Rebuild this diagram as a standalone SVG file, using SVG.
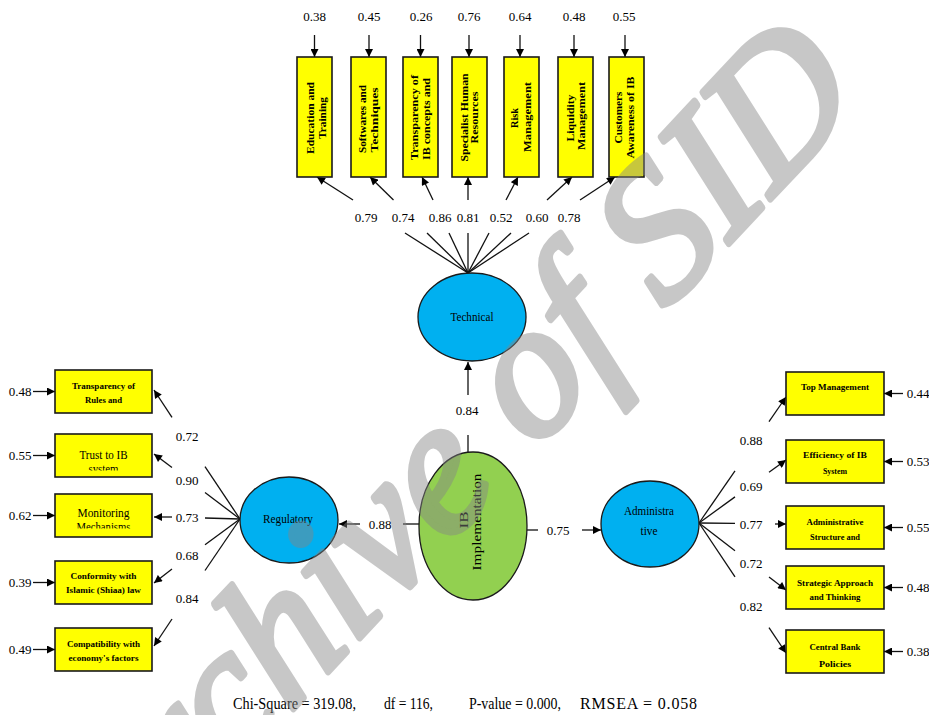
<svg xmlns="http://www.w3.org/2000/svg" width="929" height="715" viewBox="0 0 929 715">
<style>
.box{fill:#ffff00;stroke:#1a1a1a;stroke-width:1.6}
.lat{fill:#00b0f0;stroke:#1a1a1a;stroke-width:1.3}
.ib{fill:#92d050;stroke:#1a1a1a;stroke-width:1.3}
.ln{stroke:#111;stroke-width:1.3;fill:none}
.arr{marker-end:url(#ah)}
.num{font-family:"Liberation Serif","Times New Roman",serif;font-size:13px;text-anchor:middle;fill:#000}
.bt{font-family:"Liberation Serif","Times New Roman",serif;font-size:9px;font-weight:bold;text-anchor:middle;fill:#000}
.tb{font-family:"Liberation Serif","Times New Roman",serif;font-size:10px;font-weight:bold;text-anchor:middle;fill:#000}
.rt{font-family:"Liberation Serif","Times New Roman",serif;font-size:13px;text-anchor:middle;fill:#000}
.nl{font-family:"Liberation Serif","Times New Roman",serif;font-size:13px;text-anchor:middle;fill:#000}
.ft{font-family:"Liberation Serif","Times New Roman",serif;font-size:16px;fill:#000}
.wm{font-family:"Liberation Serif","Times New Roman",serif;font-size:195px;font-style:italic;fill:#858585;stroke:#858585;stroke-width:7;stroke-linejoin:round}
</style>
<defs>
<marker id="ah" viewBox="0 0 10 10" refX="10" refY="5" markerWidth="9" markerHeight="8" markerUnits="userSpaceOnUse" orient="auto">
<path d="M0,0 L10,5 L0,10 z" fill="#000"/>
</marker>
<clipPath id="clipSys"><rect x="55" y="458" width="97" height="12.5"/></clipPath>
<clipPath id="clipMech"><rect x="55" y="518" width="97" height="10.5"/></clipPath>
</defs>

<!-- connectors -->
<g id="connectors">
<!-- top error arrows -->
<line class="ln arr" x1="314.5" y1="35" x2="314.5" y2="57"/>
<line class="ln arr" x1="369" y1="35" x2="369" y2="57"/>
<line class="ln arr" x1="420.5" y1="35" x2="420.5" y2="57"/>
<line class="ln arr" x1="469" y1="35" x2="469" y2="57"/>
<line class="ln arr" x1="520" y1="35" x2="520" y2="57"/>
<line class="ln arr" x1="574" y1="35" x2="574" y2="57"/>
<line class="ln arr" x1="625" y1="35" x2="625" y2="57"/>
<!-- technical loadings -->
<line class="ln" x1="468" y1="273" x2="405" y2="233"/>
<line class="ln" x1="468" y1="273" x2="427" y2="233"/>
<line class="ln" x1="468" y1="273" x2="449" y2="233"/>
<line class="ln" x1="468" y1="273" x2="468" y2="233"/>
<line class="ln" x1="468" y1="273" x2="489" y2="233"/>
<line class="ln" x1="468" y1="273" x2="511" y2="233"/>
<line class="ln" x1="468" y1="273" x2="529" y2="233"/>
<line class="ln arr" x1="353" y1="200" x2="317" y2="177"/>
<line class="ln arr" x1="393.5" y1="200" x2="370" y2="177"/>
<line class="ln arr" x1="433" y1="200" x2="422" y2="177"/>
<line class="ln arr" x1="468" y1="200" x2="468" y2="177"/>
<line class="ln arr" x1="506" y1="200" x2="518" y2="177"/>
<line class="ln arr" x1="547" y1="200" x2="572" y2="177"/>
<line class="ln arr" x1="580" y1="200" x2="615" y2="177"/>
<!-- IB to technical -->
<line class="ln" x1="468" y1="453" x2="468" y2="435"/>
<line class="ln arr" x1="468" y1="395" x2="468" y2="362"/>
<!-- IB to regulatory -->
<line class="ln" x1="420" y1="524" x2="403" y2="524"/>
<line class="ln arr" x1="360" y1="524" x2="339" y2="524"/>
<!-- IB to administrative -->
<line class="ln" x1="527" y1="530" x2="538" y2="530"/>
<line class="ln arr" x1="582" y1="530" x2="601" y2="530"/>
<!-- regulatory loadings -->
<line class="ln" x1="240" y1="519" x2="205" y2="466.7"/>
<line class="ln" x1="240" y1="519" x2="205" y2="492.5"/>
<line class="ln" x1="240" y1="519" x2="205" y2="518"/>
<line class="ln" x1="240" y1="519" x2="205" y2="544.7"/>
<line class="ln" x1="240" y1="519" x2="205" y2="570.5"/>
<line class="ln arr" x1="172" y1="417.4" x2="154" y2="390"/>
<line class="ln arr" x1="172" y1="467.4" x2="154" y2="454"/>
<line class="ln arr" x1="172" y1="517" x2="154" y2="517"/>
<line class="ln arr" x1="172" y1="569" x2="154" y2="583"/>
<line class="ln arr" x1="172" y1="619" x2="154" y2="646"/>
<!-- regulatory error arrows -->
<line class="ln arr" x1="33" y1="391.5" x2="55" y2="391.5"/>
<line class="ln arr" x1="33" y1="455.5" x2="55" y2="455.5"/>
<line class="ln arr" x1="33" y1="515.5" x2="55" y2="515.5"/>
<line class="ln arr" x1="33" y1="582.5" x2="55" y2="582.5"/>
<line class="ln arr" x1="33" y1="649.5" x2="55" y2="649.5"/>
<!-- administrative loadings -->
<line class="ln" x1="699" y1="523" x2="735" y2="470.9"/>
<line class="ln" x1="699" y1="523" x2="735" y2="496.9"/>
<line class="ln" x1="699" y1="523" x2="735" y2="523.4"/>
<line class="ln" x1="699" y1="523" x2="735" y2="550.7"/>
<line class="ln" x1="699" y1="523" x2="735" y2="576.8"/>
<line class="ln arr" x1="769" y1="421.6" x2="786" y2="397"/>
<line class="ln arr" x1="769" y1="472.3" x2="786" y2="460"/>
<line class="ln arr" x1="775" y1="524" x2="786" y2="524"/>
<line class="ln arr" x1="769" y1="576.9" x2="786" y2="590"/>
<line class="ln arr" x1="769" y1="627.6" x2="786" y2="653"/>
<!-- administrative error arrows -->
<line class="ln arr" x1="903" y1="393.5" x2="884" y2="393.5"/>
<line class="ln arr" x1="903" y1="461.5" x2="884" y2="461.5"/>
<line class="ln arr" x1="903" y1="527.5" x2="884" y2="527.5"/>
<line class="ln arr" x1="903" y1="587.5" x2="884" y2="587.5"/>
<line class="ln arr" x1="903" y1="651.5" x2="884" y2="651.5"/>
</g>

<!-- connector labels -->
<g id="labels">
<text class="num" x="314.5" y="21">0.38</text>
<text class="num" x="369" y="21">0.45</text>
<text class="num" x="421" y="21">0.26</text>
<text class="num" x="469" y="21">0.76</text>
<text class="num" x="520" y="21">0.64</text>
<text class="num" x="574" y="21">0.48</text>
<text class="num" x="624" y="21">0.55</text>
<text class="num" x="366" y="221.5">0.79</text>
<text class="num" x="403" y="221.5">0.74</text>
<text class="num" x="440" y="221.5">0.86</text>
<text class="num" x="468" y="221.5">0.81</text>
<text class="num" x="501" y="221.5">0.52</text>
<text class="num" x="537" y="221.5">0.60</text>
<text class="num" x="569" y="221.5">0.78</text>
<text class="num" x="467" y="414.5">0.84</text>
<text class="num" x="380" y="528.5">0.88</text>
<text class="num" x="558" y="534.5">0.75</text>
<text class="num" x="187" y="440.5">0.72</text>
<text class="num" x="187" y="484.5">0.90</text>
<text class="num" x="187" y="521.5">0.73</text>
<text class="num" x="187" y="559.5">0.68</text>
<text class="num" x="187" y="602.5">0.84</text>
<text class="num" x="20" y="396">0.48</text>
<text class="num" x="20" y="460">0.55</text>
<text class="num" x="20" y="520">0.62</text>
<text class="num" x="20" y="587">0.39</text>
<text class="num" x="20" y="654">0.49</text>
<text class="num" x="751" y="444.5">0.88</text>
<text class="num" x="751" y="490.5">0.69</text>
<text class="num" x="751" y="528.5">0.77</text>
<text class="num" x="751" y="567.5">0.72</text>
<text class="num" x="751" y="610.5">0.82</text>
<text class="num" x="918" y="398">0.44</text>
<text class="num" x="918" y="466">0.53</text>
<text class="num" x="918" y="532">0.55</text>
<text class="num" x="918" y="592">0.48</text>
<text class="num" x="918" y="656">0.38</text>
</g>

<!-- top indicator boxes -->
<g id="t1"><rect class="box" x="297" y="57" width="35" height="120"/>
<text class="tb" transform="translate(310.7,118) rotate(-90)" y="3.5" textLength="72" lengthAdjust="spacingAndGlyphs">Education and</text>
<text class="tb" transform="translate(322.3,118) rotate(-90)" y="3.5" textLength="42" lengthAdjust="spacingAndGlyphs">Training</text></g>
<g id="t2"><rect class="box" x="351" y="57" width="35" height="120"/>
<text class="tb" transform="translate(362.7,119) rotate(-90)" y="3.5" textLength="68" lengthAdjust="spacingAndGlyphs">Softwares and</text>
<text class="tb" transform="translate(374.3,120) rotate(-90)" y="3.5" textLength="65" lengthAdjust="spacingAndGlyphs">Techniques</text></g>
<g id="t3"><rect class="box" x="403" y="57" width="35" height="120"/>
<text class="tb" transform="translate(414,117.5) rotate(-90)" y="3.5" textLength="85" lengthAdjust="spacingAndGlyphs">Transparency of</text>
<text class="tb" transform="translate(426,119) rotate(-90)" y="3.5" textLength="82" lengthAdjust="spacingAndGlyphs">IB concepts and</text></g>
<g id="t4"><rect class="box" x="452" y="57" width="35" height="120"/>
<text class="tb" transform="translate(464.3,117.5) rotate(-90)" y="3.5" textLength="88" lengthAdjust="spacingAndGlyphs">Specialist Human</text>
<text class="tb" transform="translate(474.3,117.5) rotate(-90)" y="3.5" textLength="52" lengthAdjust="spacingAndGlyphs">Resources</text></g>
<g id="t5"><rect class="box" x="504" y="57" width="35" height="120"/>
<text class="tb" transform="translate(514,118) rotate(-90)" y="3.5" textLength="20" lengthAdjust="spacingAndGlyphs">Risk</text>
<text class="tb" transform="translate(527,117) rotate(-90)" y="3.5" textLength="70" lengthAdjust="spacingAndGlyphs">Management</text></g>
<g id="t6"><rect class="box" x="558" y="57" width="35" height="120"/>
<text class="tb" transform="translate(570,118) rotate(-90)" y="3.5" textLength="47" lengthAdjust="spacingAndGlyphs">Liquidity</text>
<text class="tb" transform="translate(581,116) rotate(-90)" y="3.5" textLength="68" lengthAdjust="spacingAndGlyphs">Management</text></g>
<g id="t7"><rect class="box" x="609" y="57" width="35" height="120"/>
<text class="tb" transform="translate(618,117.5) rotate(-90)" y="3.5" textLength="52" lengthAdjust="spacingAndGlyphs">Customers</text>
<text class="tb" transform="translate(630,117.5) rotate(-90)" y="3.5" textLength="82" lengthAdjust="spacingAndGlyphs">Awareness of IB</text></g>

<!-- left indicator boxes -->
<g id="l1"><rect class="box" x="55" y="370" width="97" height="43"/>
<text class="bt" x="103.5" y="388.5" textLength="63" lengthAdjust="spacingAndGlyphs">Transparency of</text>
<text class="bt" x="103.5" y="402.5" textLength="37" lengthAdjust="spacingAndGlyphs">Rules and</text></g>
<g id="l2"><rect class="box" x="55" y="434" width="97" height="43"/>
<text class="rt" x="103.5" y="458.5" textLength="48" lengthAdjust="spacingAndGlyphs">Trust to IB</text>
<text class="rt" x="103.5" y="472.5" font-size="12" textLength="30" lengthAdjust="spacingAndGlyphs" clip-path="url(#clipSys)">system</text></g>
<g id="l3"><rect class="box" x="55" y="494" width="97" height="43"/>
<text class="rt" x="103.5" y="516.5" textLength="52" lengthAdjust="spacingAndGlyphs">Monitoring</text>
<text class="rt" x="103.5" y="531" font-size="12" textLength="54" lengthAdjust="spacingAndGlyphs" clip-path="url(#clipMech)">Mechanisms</text></g>
<g id="l4"><rect class="box" x="55" y="561" width="97" height="43"/>
<text class="bt" x="103.5" y="578.5" textLength="66" lengthAdjust="spacingAndGlyphs">Conformity with</text>
<text class="bt" x="103.5" y="592.5" textLength="75" lengthAdjust="spacingAndGlyphs">Islamic (Shiaa) law</text></g>
<g id="l5"><rect class="box" x="55" y="628" width="97" height="43"/>
<text class="bt" x="103.5" y="646.5" textLength="73" lengthAdjust="spacingAndGlyphs">Compatibility with</text>
<text class="bt" x="103.5" y="660.5" textLength="70" lengthAdjust="spacingAndGlyphs">economy's factors</text></g>

<!-- right indicator boxes -->
<g id="r1"><rect class="box" x="786" y="372" width="98" height="43"/>
<text class="bt" x="835" y="389.5" textLength="68" lengthAdjust="spacingAndGlyphs">Top Management</text></g>
<g id="r2"><rect class="box" x="786" y="440" width="98" height="43"/>
<text class="bt" x="835" y="457.5" textLength="64" lengthAdjust="spacingAndGlyphs">Efficiency of IB</text>
<text class="bt" x="835" y="473.5" textLength="24" lengthAdjust="spacingAndGlyphs">System</text></g>
<g id="r3"><rect class="box" x="786" y="506" width="98" height="43"/>
<text class="bt" x="835" y="524.5" textLength="57" lengthAdjust="spacingAndGlyphs">Administrative</text>
<text class="bt" x="835" y="539.5" textLength="50" lengthAdjust="spacingAndGlyphs">Structure and</text></g>
<g id="r4"><rect class="box" x="786" y="566" width="98" height="43"/>
<text class="bt" x="835" y="585.5" textLength="76" lengthAdjust="spacingAndGlyphs">Strategic Approach</text>
<text class="bt" x="835" y="599.5" textLength="51" lengthAdjust="spacingAndGlyphs">and Thinking</text></g>
<g id="r5"><rect class="box" x="786" y="630" width="98" height="43"/>
<text class="bt" x="835" y="649.5" textLength="51" lengthAdjust="spacingAndGlyphs">Central Bank</text>
<text class="bt" x="835" y="666.5" textLength="32" lengthAdjust="spacingAndGlyphs">Policies</text></g>

<!-- latent variables -->
<g id="technical"><ellipse class="lat" cx="472" cy="317" rx="54" ry="44"/>
<text class="nl" x="472" y="320.5" textLength="43" lengthAdjust="spacingAndGlyphs">Technical</text></g>
<g id="regulatory"><ellipse class="lat" cx="289" cy="520" rx="49" ry="43"/>
<text class="nl" x="288" y="522.5" textLength="50" lengthAdjust="spacingAndGlyphs">Regulatory</text></g>
<g id="administrative"><ellipse class="lat" cx="650" cy="524" rx="49" ry="43"/>
<text class="nl" x="649" y="515" textLength="50" lengthAdjust="spacingAndGlyphs">Administra</text>
<text class="nl" x="649" y="535" textLength="17" lengthAdjust="spacingAndGlyphs">tive</text></g>
<g id="ib"><ellipse class="ib" cx="473" cy="526" rx="54" ry="74"/>
<text class="nl" transform="translate(463.5,520) rotate(-90)" y="4.5" font-size="14" textLength="17" lengthAdjust="spacingAndGlyphs">IB</text>
<text class="nl" transform="translate(476.5,522) rotate(-90)" y="4.5" font-size="14" textLength="97" lengthAdjust="spacingAndGlyphs">Implementation</text></g>

<!-- fit statistics -->
<g id="fit">
<text class="ft" x="233" y="709" textLength="123" lengthAdjust="spacingAndGlyphs">Chi-Square = 319.08,</text>
<text class="ft" x="384" y="709" textLength="49" lengthAdjust="spacingAndGlyphs">df = 116,</text>
<text class="ft" x="469" y="709" textLength="92" lengthAdjust="spacingAndGlyphs">P-value = 0.000,</text>
<text class="ft" x="580" y="709" textLength="117" lengthAdjust="spacing">RMSEA = 0.058</text>
</g>

<!-- watermark -->
<g id="watermark" opacity="0.45">
<text class="wm" transform="translate(300,0) scale(0.92,1) translate(-300,0) translate(92,906) rotate(-44.5)">Archive of SID</text>
</g>
</svg>
